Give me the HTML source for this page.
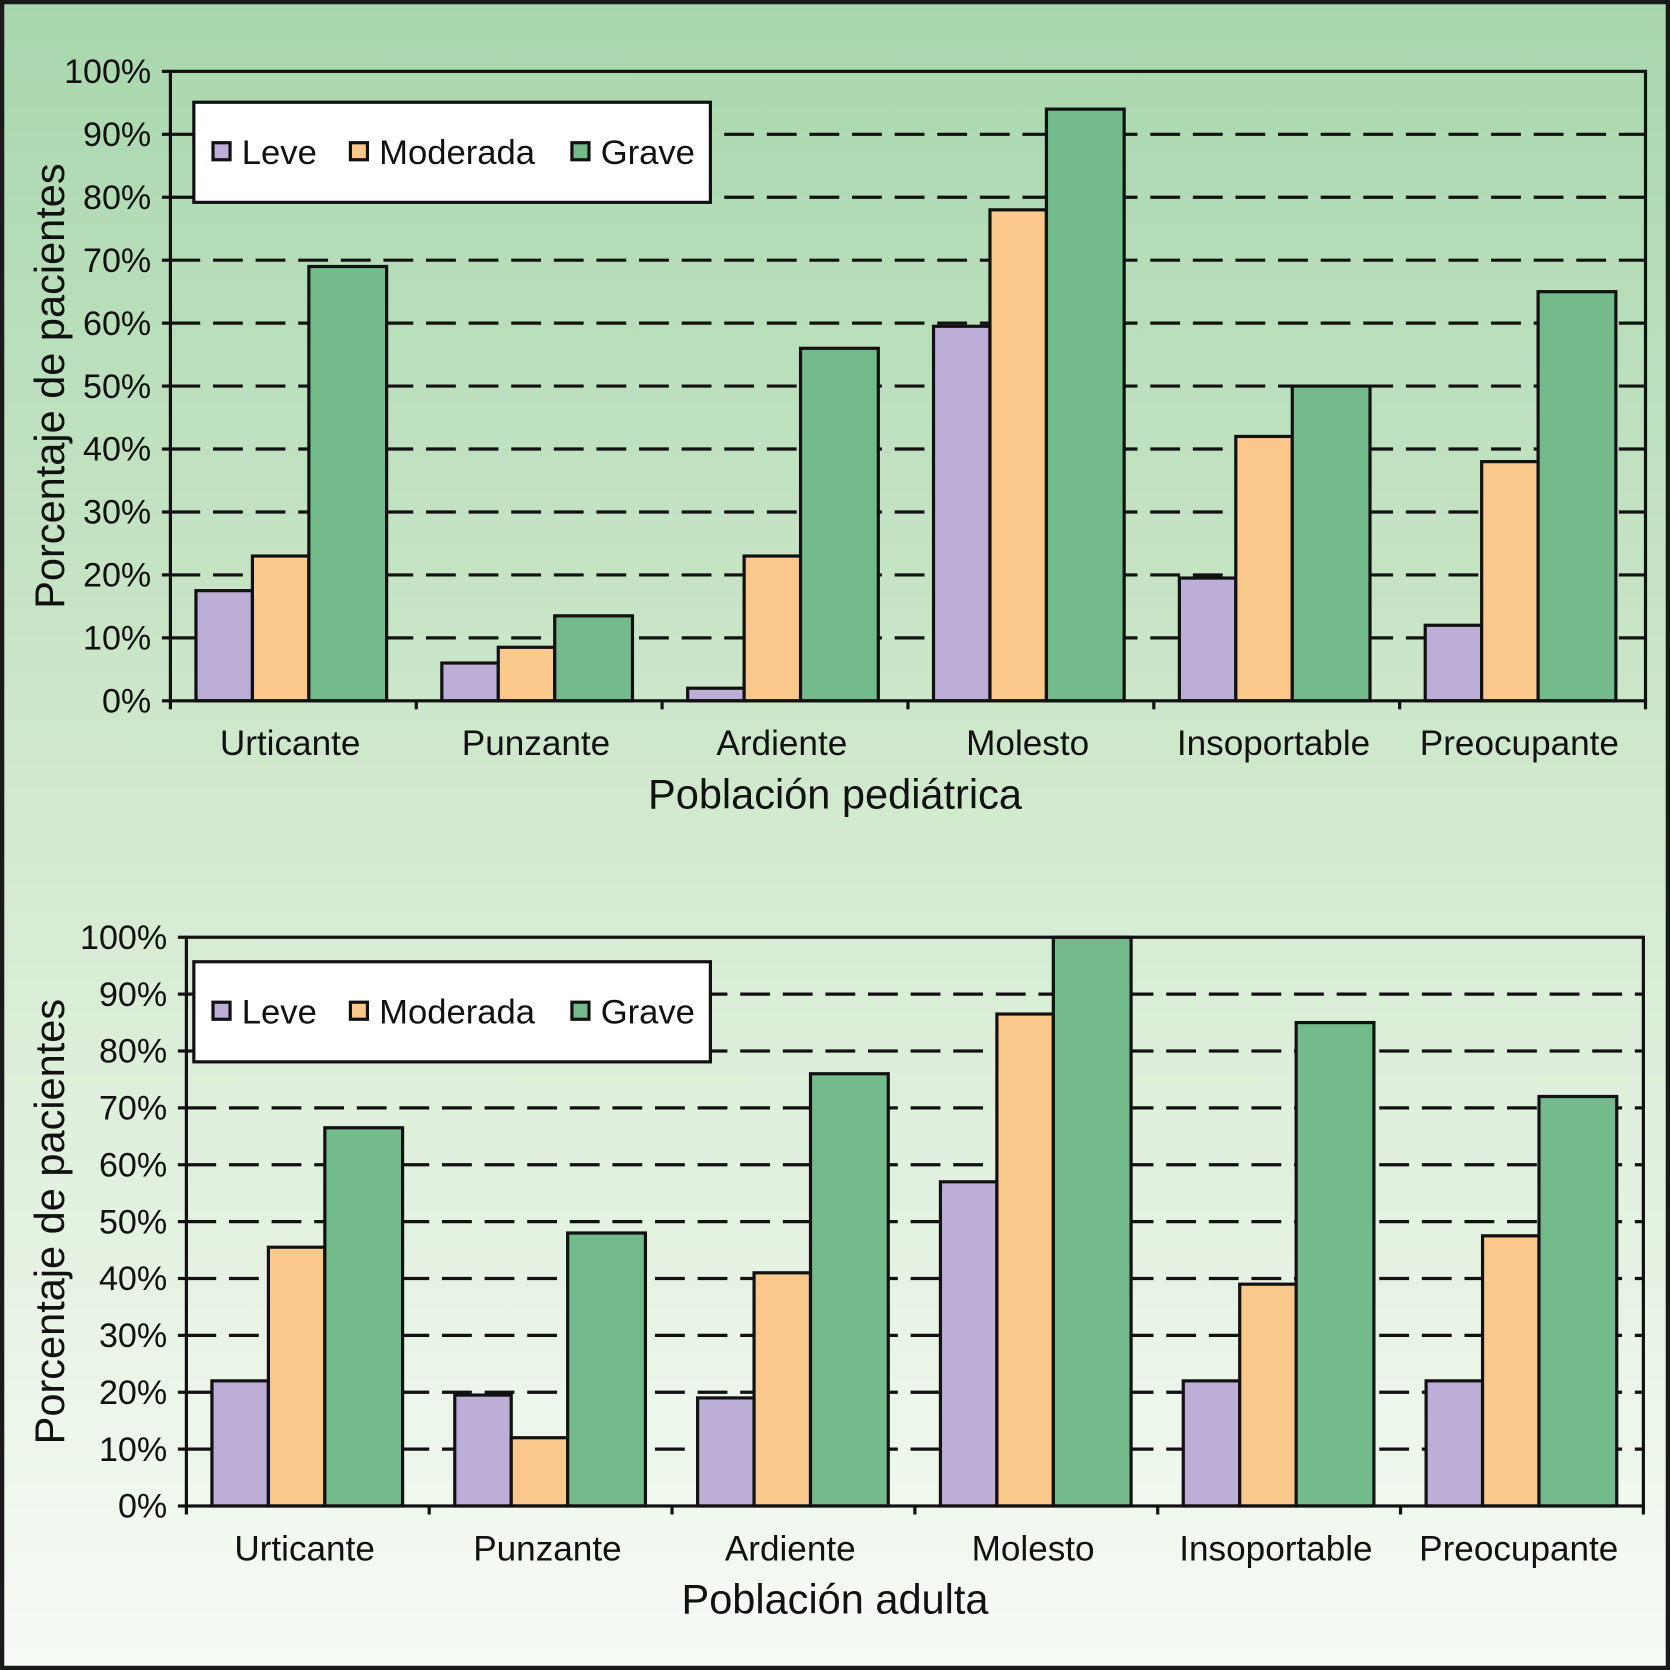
<!DOCTYPE html>
<html><head><meta charset="utf-8"><style>
html,body{margin:0;padding:0;width:1670px;height:1670px;overflow:hidden}
svg{display:block;font-family:"Liberation Sans",sans-serif}
</style></head><body>
<svg id="s" width="1670" height="1670" viewBox="0 0 1568 1568" xmlns="http://www.w3.org/2000/svg">
<defs><linearGradient id="bg" x1="0" y1="0" x2="0" y2="1">
<stop offset="0" stop-color="#a8d7ad"/><stop offset="0.5" stop-color="#d3eacf"/><stop offset="1" stop-color="#f7fbf6"/></linearGradient></defs>
<rect x="2" y="2" width="1564" height="1564" fill="url(#bg)" stroke="#1a1a1a" stroke-width="4"/>
<g id="g"></g>
</svg>
<script>
const categories=["Urticante","Punzante","Ardiente","Molesto","Insoportable","Preocupante"];
const seriesNames=["Leve","Moderada","Grave"];
const pedLeve=[17.5,6,2,59.5,19.5,12];
const pedModerada=[23,8.5,23,78,42,38];
const pedGrave=[69,13.5,56,94,50,65];
const adLeve=[22,19.5,19,57,22,22];
const adModerada=[45.5,12,41,86.5,39,47.5];
const adGrave=[66.5,48,76,100,85,72];
const yTicks=[0,10,20,30,40,50,60,70,80,90,100];
const colors=["#bcaed6","#fbc88c","#74bb8c"];
const NS="http://www.w3.org/2000/svg";
const G=document.getElementById('g');
function el(t,a,p){const e=document.createElementNS(NS,t);for(const k in a)e.setAttribute(k,a[k]);(p||G).appendChild(e);return e;}
function chart(cfg,series,title,prefix){
  const {x0,x1,yTop,yBot,leg}=cfg;
  const y=v=>yBot-(yBot-yTop)*v/100;
  const cw=(x1-x0)/categories.length;
  const x=i=>x0+i*cw;
  const g=el('g',{});
  
  
  yTicks.forEach(t=>{
    if(t>0&&t<100){const l=el('line',{x1:x0,x2:x1,y1:y(t),y2:y(t),stroke:'#111','stroke-width':3,'stroke-dasharray':'28 12'},g);
    }
    const tk=el('line',{x1:x0-8,x2:x0,y1:y(t),y2:y(t),stroke:'#111','stroke-width':3},g);
    
    const tx=el('text',{x:x0-18,y:y(t)+11,'text-anchor':'end','font-size':32,fill:'#111'},g);
    tx.textContent=t+'%';
  });
  const widths=[53,53,73],off=24;
  categories.forEach((c,i)=>{
    let bx=x(i)+off;
    series.forEach((s,j)=>{
      const r=el('rect',{x:bx,y:y(s[i]),width:widths[j],height:yBot-y(s[i]),fill:colors[j],stroke:'#111','stroke-width':3},g);
      
      
      bx+=widths[j];
    });
    const t=el('text',{x:x(i)+cw/2-3,y:yBot+51,'text-anchor':'middle','font-size':33,fill:'#111'},g);
    t.textContent=c;
  });
  for(let i=0;i<=categories.length;i++){
    const tk=el('line',{x1:x(i),x2:x(i),y1:yBot,y2:yBot+8,stroke:'#111','stroke-width':3},g);
    
  }
  const fr=el('rect',{x:x0,y:yTop,width:x1-x0,height:yBot-yTop,fill:'none',stroke:'#111','stroke-width':3},g);
  
  const lg=el('g',{},g);
  el('rect',{x:leg.x,y:leg.y,width:485,height:94,fill:'#fff',stroke:'#111','stroke-width':3},lg);
  const lx=[200,329,537];
  seriesNames.forEach((n,j)=>{
    const e=el('g',{},lg);
    el('rect',{x:lx[j],y:leg.y+38,width:16,height:16,fill:colors[j],stroke:'#111','stroke-width':3},e);
    const t=el('text',{x:lx[j]+27,y:leg.y+58,'font-size':32.5,fill:'#111'},e);t.textContent=n;
  });
  const xt=el('text',{x:784,y:yBot+101,'text-anchor':'middle','font-size':39,fill:'#111'},g);
  xt.textContent=title;
  const cy=(yTop+yBot)/2;
  const yt=el('text',{x:60,y:cy,'text-anchor':'middle','font-size':39,fill:'#111',transform:'rotate(-90 60 '+cy+')'},g);
  yt.textContent='Porcentaje de pacientes';
}
chart({x0:160,x1:1545,yTop:67,yBot:658,leg:{x:182,y:96}},[pedLeve,pedModerada,pedGrave],'Población pediátrica','pediatric');
chart({x0:175,x1:1543,yTop:880,yBot:1414,leg:{x:182,y:903}},[adLeve,adModerada,adGrave],'Población adulta','adult');
</script>
</body></html>
